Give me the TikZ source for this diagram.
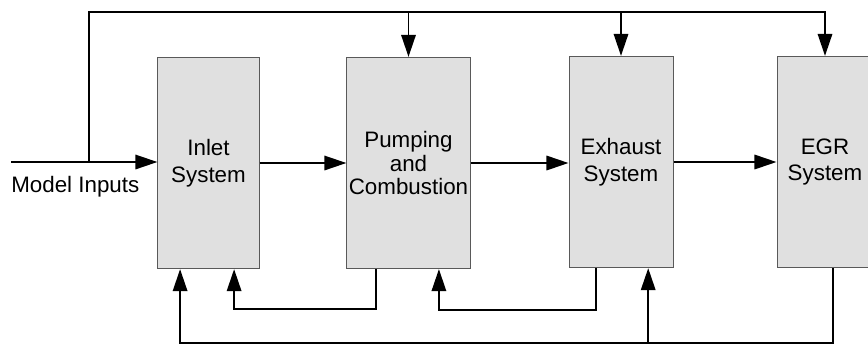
\documentclass[tikz,border=0pt]{standalone}
\usepackage{fontspec}
\setmainfont{Liberation Sans}
\usetikzlibrary{arrows.meta}

\tikzset{
  block/.style = {draw=black!65, line width=.7pt, fill=black!12, minimum height=5.28cm,
                  inner sep=0pt, align=center, font=\fontsize{15.9}{19}\selectfont},
  wire/.style = {line width=1.4pt},
  feed/.style = {wire, -{Triangle[length=.55cm,width=.36cm]}}
}

\begin{document}
\begin{tikzpicture}[x=.025cm, y=-.025cm]
\useasboundingbox (0,0) rectangle (868,345);
\node[block, minimum width=2.53cm] (inlet) at (208.5,163) {Inlet\\System};
\node[block, minimum width=3.08cm, font=\fontsize{15.9}{17}\selectfont] (pump) at (408.5,163) {Pumping\\and\\Combustion};
\node[block, minimum width=2.6cm] (exh) at (621,162) {Exhaust\\System};
\node[block, minimum width=2.4cm] (egr) at (825,162) {EGR\\System};

% inputs and the line over the top
\coordinate (in) at (11,162);
\coordinate (split) at (89,162);
\coordinate (top) at (0,12);
\coordinate (low) at (0,343);
\node[anchor=base west, inner sep=0pt, font=\fontsize{15.9}{19}\selectfont] (inlbl) at (11,192) {Model Inputs};
\draw[feed] (in) -- (in -| inlet.west);
\draw[feed] (split) |- (egr.north |- top) -- (egr.north);
\draw[feed] (pump.north |- top) -- (pump.north);
\draw[feed] (exh.north |- top) -- (exh.north);

% forward path
\draw[feed] (inlet.east) -- (inlet.east -| pump.west);
\draw[feed] (pump.east) -- (pump.east -| exh.west);
\draw[feed] (exh.east) -- (exh.east -| egr.west);

% returns underneath
\draw[feed] ([xshift=-.81cm]pump.south) -- ++(0,40) -| ([xshift=.64cm]inlet.south);
\draw[feed] ([xshift=-.63cm]exh.south) -- ++(0,42) -| ([xshift=.76cm]pump.south);
\coordinate (egrout) at ([xshift=.2cm]egr.south);
\coordinate (inlret) at ([xshift=-.71cm]inlet.south);
\coordinate (exhret) at ([xshift=.68cm]exh.south);
\draw[feed] (egrout) -- (egrout |- low) -| (inlret);
\draw[feed] (exhret |- low) -- (exhret);
\end{tikzpicture}
\end{document}
